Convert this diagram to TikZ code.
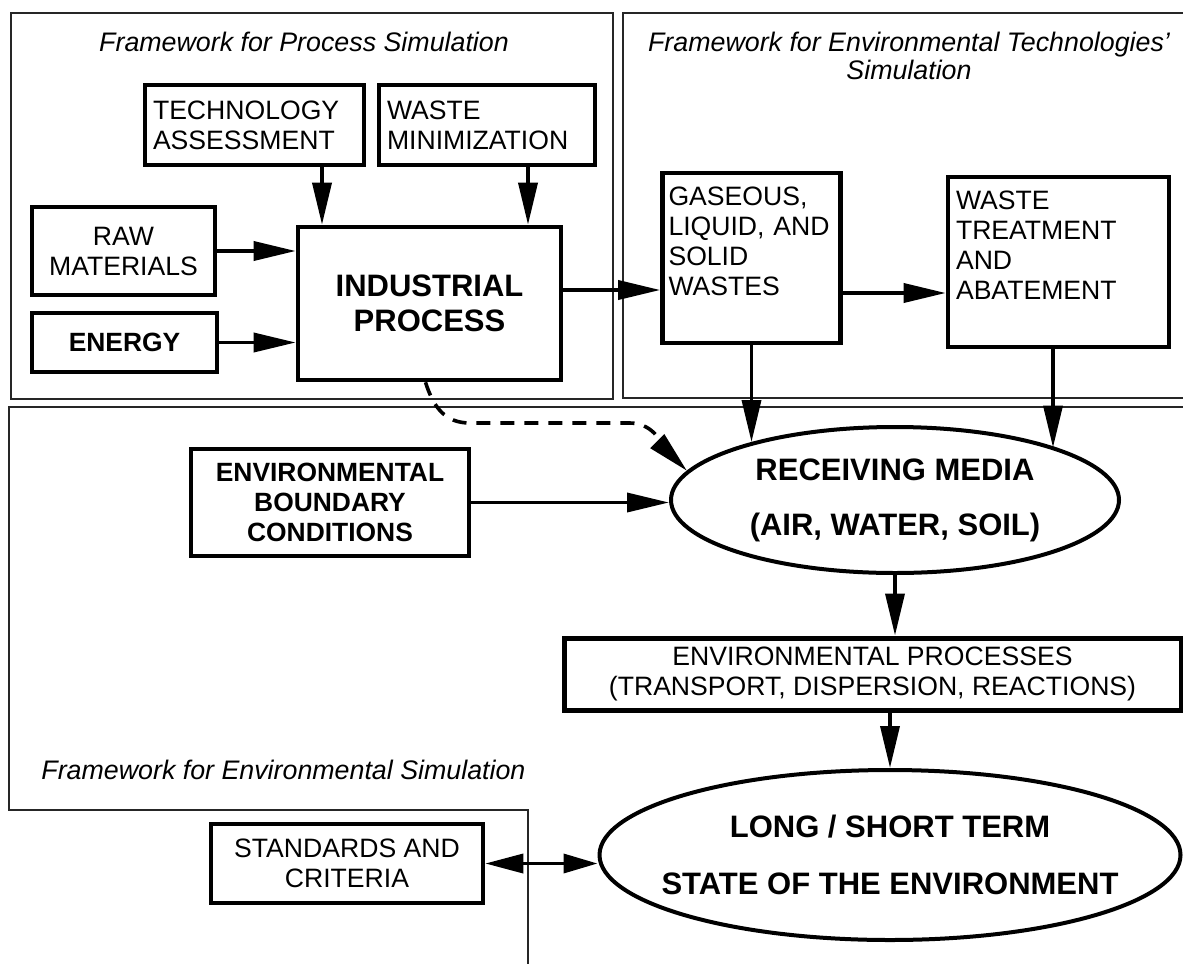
\documentclass[tikz,border=0pt]{standalone}
\usepackage{fontspec}
\setmainfont{Liberation Sans}
\usetikzlibrary{arrows.meta,positioning,shapes.geometric,calc}
\tikzset{
  frame/.style={draw=black!85,line width=0.6pt},
  frametitle/.style={font=\fontsize{13.4}{14}\selectfont\itshape,align=center,inner sep=0pt},
  box/.style={draw,line width=2.3pt,inner sep=4pt,align=center,font=\fontsize{13.3}{15}\selectfont},
  boldbox/.style={box,font=\fontsize{13.2}{15}\selectfont\bfseries},
  leftbox/.style={box,align=left},
  media/.style={ellipse,draw,line width=2pt,inner sep=0pt,align=center,font=\fontsize{15.5}{27.5}\selectfont\bfseries},
  flow/.style={-{Triangle[length=21pt,width=9.5pt]},line width=1.8pt},
  bothway/.style={{Triangle[length=19pt,width=9.5pt]}-{Triangle[length=17pt,width=9.5pt]},line width=1.8pt},
  feedback/.style={flow,dash pattern=on 7pt off 5pt}
}

\begin{document}
\begin{tikzpicture}[x=0.5pt,y=-0.5pt]
  \useasboundingbox (0,0) rectangle (1183,964);
  % the three frameworks
  \draw[frame] (11,13) rectangle (613,399);
  \draw[frame] (1183,13) -- (623,13) -- (623,398) -- (1183,398);
  \draw[frame] (1183,407) -- (9,407) -- (9,810) -- (528,810) -- (528,964);
  \node[frametitle] (proctitle) at (304,42) {Framework for Process Simulation};
  \node[frametitle] (techtitle) at (909,56) {Framework for Environmental Technologies'\\Simulation};
  \node[frametitle,anchor=west] (envtitle) at (41,770) {Framework for Environmental Simulation};

  % process side
  \node[leftbox,text width=101.5pt,minimum height=40pt] (techassess) at (254.5,125) {TECHNOLOGY\\ASSESSMENT};
  \node[leftbox,text width=100pt,minimum height=40pt] (wastemin) at (487,125) {WASTE\\MINIMIZATION};
  \node[box,minimum width=91.5pt,minimum height=44pt] (rawmat) at (123.5,251) {RAW\\MATERIALS};
  \node[boldbox,minimum width=92.5pt,minimum height=29.5pt] (energy) at (124.5,342.5) {ENERGY};
  \node[box,font=\fontsize{15.5}{17.5}\selectfont\bfseries,minimum width=131.5pt,minimum height=76.5pt] (indproc) at (429.5,303.5) {INDUSTRIAL\\PROCESS};

  % technologies side
  \node[leftbox,inner xsep=3pt,text width=83pt,minimum height=85pt,text depth=61.5pt] (wastes) at (751.5,258) {GASEOUS,\\LIQUID, AND\\SOLID\\WASTES};
  \node[leftbox,text width=102.5pt,minimum height=85pt,text depth=62pt] (treat) at (1058.5,262) {WASTE\\TREATMENT\\AND\\ABATEMENT};

  % environment side
  \node[boldbox,minimum width=139pt,minimum height=53.5pt] (envbc) at (330,502.5) {ENVIRONMENTAL\\BOUNDARY\\CONDITIONS};
  \node[media,minimum width=224pt,minimum height=73pt] (recv) at (895,500) {RECEIVING MEDIA\\(AIR, WATER, SOIL)};
  \node[box,line width=2.5pt,minimum width=308.5pt,minimum height=36pt] (envproc) at (872.5,674) {ENVIRONMENTAL PROCESSES\\(TRANSPORT, DISPERSION, REACTIONS)};
  \node[media,inner xsep=-20pt,font=\fontsize{15.5}{28.5}\selectfont\bfseries,minimum width=290.5pt,minimum height=85pt] (longterm) at (890,855) {LONG / SHORT TERM\\STATE OF THE ENVIRONMENT};
  \node[box,minimum width=136pt,minimum height=39.5pt] (standards) at (347,863.5) {STANDARDS AND\\CRITERIA};

  \draw[flow] ([xshift=33.75pt]techassess.south) -- ([xshift=33.75pt]techassess.south |- indproc.north);
  \draw[flow] ([xshift=20.5pt]wastemin.south) -- ([xshift=20.5pt]wastemin.south |- indproc.north);
  \draw[flow] (rawmat.east) -- (rawmat.east -| indproc.west);
  \draw[flow] (energy.east) -- (energy.east -| indproc.west);
  \draw[flow] ([yshift=6.75pt]indproc.east) -- ([yshift=6.75pt]indproc.east -| wastes.west);
  \draw[flow] ([yshift=-17.5pt]wastes.east) -- ([yshift=-17.5pt]wastes.east -| treat.west);
  \draw[flow] (wastes.south) -- (wastes.south |- recv.158.6);
  \draw[flow] ([xshift=-2.75pt]treat.south) -- ([xshift=-2.75pt]treat.south |- recv.18);
  \draw[flow] (envbc.east) -- (envbc.east -| recv.west);
  \draw[flow] (recv.south) -- (recv.south |- envproc.north);
  \draw[flow] (envproc.south -| longterm.north) -- (longterm.north);
  \draw[bothway] (standards.east) -- (standards.east -| longterm.west);

  % direct release, dashed
  \coordinate (dashA) at (470,423);
  \coordinate (dashB) at (630,423);
  \draw[feedback] ([xshift=-2pt]indproc.south) .. controls +(8,25) and +(-25,0) .. (dashA) -- (dashB) .. controls +(25,0) and +(-22,-22) .. (recv.172);
\end{tikzpicture}
\end{document}
